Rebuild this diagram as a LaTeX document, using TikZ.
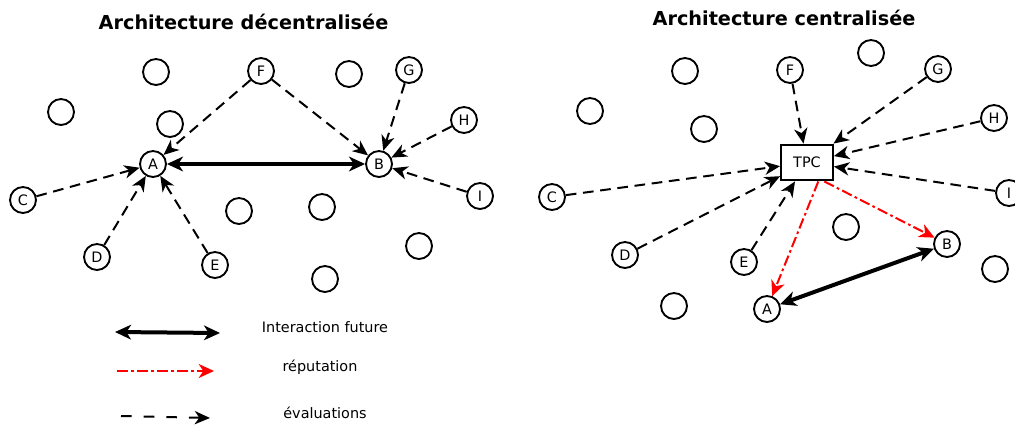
\documentclass[tikz,border=0pt]{standalone}
\usepackage{fontspec}
\setmainfont{DejaVu Sans}
\usetikzlibrary{arrows.meta}
\begin{document}
\begin{tikzpicture}[x=0.75pt,y=-0.75pt,
  peer/.style={circle,draw,line width=1.4pt,minimum size=19.5pt,inner sep=0pt,
    font=\fontsize{10.8}{12}\selectfont},
  tpcbox/.style={rectangle,draw,line width=1.8pt,minimum width=38.6pt,
    minimum height=26.6pt,inner sep=0pt,font=\fontsize{10.8}{12}\selectfont},
  evalarrow/.style={draw,line width=1.5pt,dash pattern=on 8pt off 5pt,
    -{Stealth[length=11.5pt,width=10pt,inset=3.5pt]}},
  reparrow/.style={draw=red,line width=1.5pt,
    dash pattern=on 8pt off 2.5pt on 2pt off 2.5pt,
    -{Stealth[length=11.5pt,width=10.5pt,inset=3.5pt,red]}},
  futurearrow/.style={line width=3pt,
    {Stealth[length=12pt,width=11pt,inset=3.5pt]}-{Stealth[length=12pt,width=11pt,inset=3.5pt]}},
  headline/.style={font=\fontsize{14.45}{16}\selectfont\bfseries,anchor=base},
  legtext/.style={font=\fontsize{10.8}{12}\selectfont,anchor=base}
]
\useasboundingbox (0,0) rectangle (1015,425);

% ---------- decentralised architecture ----------
\node[headline] (t1) at (243.5,29) {Architecture décentralisée};

\node[peer] (l1) at (156,72) {};
\node[peer] (l2) at (61,112) {};
\node[peer] (l3) at (170,124) {};
\node[peer] (l4) at (349,74) {};
\node[peer] (l5) at (239,211) {};
\node[peer] (l6) at (322,207) {};
\node[peer] (l7) at (419,246) {};
\node[peer] (l8) at (325,279) {};

\node[peer] (lA) at (153,164) {A};
\node[peer] (lB) at (379,164) {B};
\node[peer] (lC) at (23,200) {C};
\node[peer] (lD) at (97,257) {D};
\node[peer] (lE) at (215,265) {E};
\node[peer] (lF) at (261,71) {F};
\node[peer] (lG) at (409,70) {G};
\node[peer] (lH) at (464,120) {H};
\node[peer] (lI) at (480,196) {I};

\draw[evalarrow] (lF) -- (lA);
\draw[evalarrow] (lC) -- (lA);
\draw[evalarrow] (lD) -- (lA);
\draw[evalarrow] (lE) -- (lA);
\draw[evalarrow] (lF) -- (lB);
\draw[evalarrow] (lG) -- (lB);
\draw[evalarrow] (lH) -- (lB);
\draw[evalarrow] (lI) -- (lB);
\draw[futurearrow] (lA) -- (lB);

% ---------- centralised architecture ----------
\node[headline] (t2) at (784,25.5) {Architecture centralisée};

\node[peer] (r1) at (685,71) {};
\node[peer] (r2) at (871,53) {};
\node[peer] (r3) at (590,111) {};
\node[peer] (r4) at (704,129) {};
\node[peer] (r5) at (846,227) {};
\node[peer] (r6) at (995,269) {};
\node[peer] (r7) at (674,306) {};

\node[tpcbox] (tpc) at (807,162.5) {TPC};

\node[peer] (rA) at (767,309) {A};
\node[peer] (rB) at (947,244) {B};
\node[peer] (rC) at (552,197) {C};
\node[peer] (rD) at (625,255) {D};
\node[peer] (rE) at (744,262) {E};
\node[peer] (rF) at (790,70) {F};
\node[peer] (rG) at (938,69) {G};
\node[peer] (rH) at (994,118) {H};
\node[peer] (rI) at (1009,193) {I};

\draw[evalarrow] (rF) -- (tpc);
\draw[evalarrow] (rG) -- (tpc);
\draw[evalarrow] (rH) -- (tpc);
\draw[evalarrow] (rI) -- (tpc);
\draw[evalarrow] (rC) -- (tpc);
\draw[evalarrow] (rD) -- (tpc);
\draw[evalarrow] (rE) -- (tpc);
\draw[reparrow] ([xshift=8.5pt]tpc.south) -- (rA);
\draw[reparrow] ([xshift=13pt]tpc.south) -- (rB);
\draw[futurearrow] (rA) -- (rB);

% ---------- legend ----------
\coordinate (k1s) at (115,332);
\coordinate (k1e) at (220,333);
\coordinate (k2s) at (117,371);
\coordinate (k2e) at (214,371);
\coordinate (k3s) at (121,416);
\coordinate (k3e) at (210,418);

\draw[futurearrow] (k1s) -- (k1e);
\draw[reparrow] (k2s) -- (k2e);
\draw[evalarrow,dash pattern=on 8pt off 9pt] (k3s) -- (k3e);

\node[legtext] (n1) at (325,332) {Interaction future};
\node[legtext] (n2) at (320,371) {réputation};
\node[legtext] (n3) at (325,418) {évaluations};
\end{tikzpicture}
\end{document}
